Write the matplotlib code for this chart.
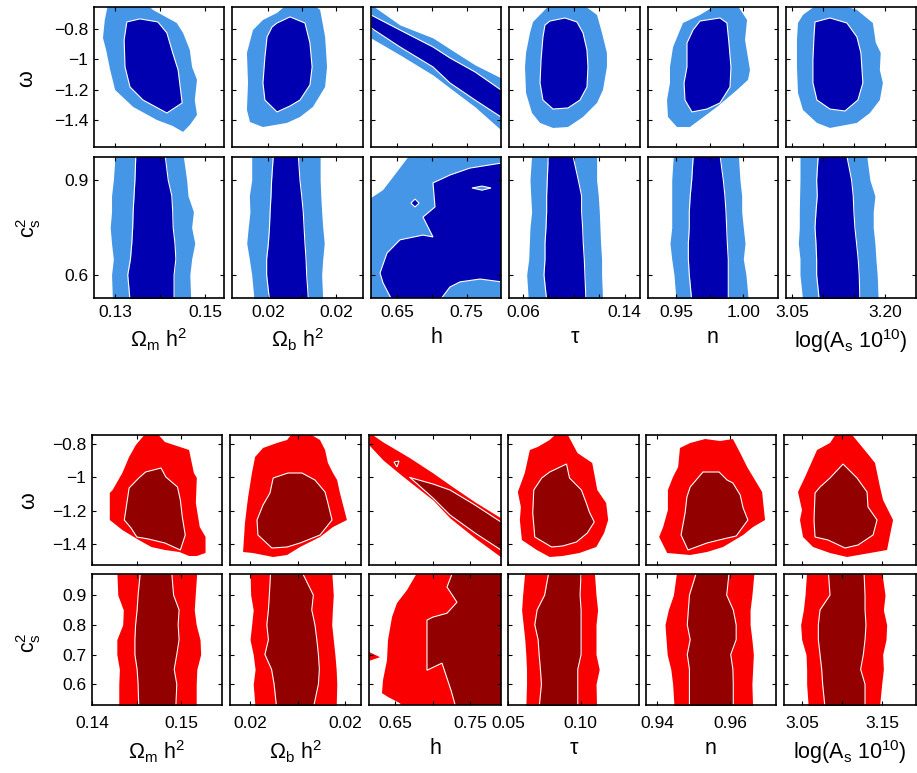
import matplotlib
matplotlib.use("Agg")
import matplotlib.pyplot as plt

plt.rcParams['font.family'] = ['Liberation Sans', 'DejaVu Sans']
plt.rcParams['mathtext.fontset'] = 'custom'
plt.rcParams['mathtext.rm'] = 'Liberation Sans'
plt.rcParams['mathtext.it'] = 'Liberation Sans'
plt.rcParams['mathtext.bf'] = 'Liberation Sans:bold'

# ---------------------------------------------------------------- labels / axes
x_labels = ["Ω$_m$ h$^2$", "Ω$_b$ h$^2$", "h", "τ", "n", "log(A$_s$ 10$^{10}$)"]

blue_xlims = [(0.1253, 0.1542), (0.01934, 0.02539), (0.613, 0.799),
              (0.049, 0.152), (0.929, 1.026), (3.040, 3.250)]
blue_xticks = [[0.13, 0.14, 0.15], [0.0210, 0.02257, 0.02414], [0.65, 0.70, 0.75],
               [0.06, 0.08, 0.10, 0.12, 0.14], [0.95, 0.975, 1.00], [3.05, 3.10, 3.15, 3.20]]
blue_xticklabels = [["0.13", "", "0.15"], ["0.02", "", "0.02"], ["0.65", "", "0.75"],
                    ["0.06", "", "", "", "0.14"], ["0.95", "", "1.00"], ["3.05", "", "", "3.20"]]

red_xlims = [(0.13996, 0.15457), (0.020367, 0.024505), (0.6153, 0.7913),
             (0.0499, 0.1404), (0.937, 0.9726), (3.0275, 3.1925)]
red_xticks = [[0.14, 0.145, 0.15], [0.021, 0.0225, 0.024], [0.65, 0.70, 0.75],
              [0.05, 0.10], [0.94, 0.96], [3.05, 3.10, 3.15]]
red_xticklabels = [["0.14", "", "0.15"], ["0.02", "", "0.02"], ["0.65", "", "0.75"],
                   ["0.05", "0.10"], ["0.94", "0.96"], ["3.05", "", "3.15"]]

w_ticks = [-0.8, -1.0, -1.2, -1.4]
w_ticklabels = ["\u22120.8", "\u22121", "\u22121.2", "\u22121.4"]
blue_wlim = (-1.574, -0.656)
red_wlim = (-1.526, -0.746)
blue_cs2_ticks = [0.6, 0.9]
red_cs2_ticks = [0.6, 0.7, 0.8, 0.9]
blue_cs2lim = (0.527, 0.973)
red_cs2lim = (0.530, 0.971)

# levels of c_s^2 at which the edges of the vertical bands are read
cs2_levels = [0.52, 0.60, 0.65, 0.70, 0.75, 0.80, 0.85, 0.90, 0.98]

# ---------------------------------------------------------------- blue: omega row (x list, y list)
b_w_omh2_out = ([0.1284, 0.1371, 0.1384, 0.1437, 0.1451, 0.1466, 0.1471, 0.1482, 0.1477, 0.1482,
                 0.1466, 0.1451, 0.1428, 0.1393, 0.1340, 0.1300, 0.1289, 0.1280, 0.1273, 0.1277],
                [-0.64, -0.64, -0.675, -0.761, -0.826, -0.938, -1.049, -1.134, -1.266, -1.364,
                 -1.430, -1.475, -1.436, -1.397, -1.311, -1.200, -1.069, -0.938, -0.859, -0.741])
b_w_omh2_in = ([0.1326, 0.1355, 0.1395, 0.1415, 0.1428, 0.1440, 0.1449, 0.1415, 0.1362, 0.1333, 0.1322, 0.1320],
               [-0.754, -0.734, -0.754, -0.826, -0.957, -1.069, -1.285, -1.351, -1.266, -1.180, -1.049, -0.872])

b_w_obh2_out = ([0.02188, 0.02308, 0.02341, 0.02364, 0.02373, 0.02364, 0.02308, 0.02248, 0.02188,
                 0.02077, 0.02017, 0.02003, 0.02008, 0.02003, 0.02031, 0.02077, 0.02142],
                [-0.64, -0.64, -0.675, -0.852, -1.049, -1.180, -1.311, -1.377, -1.416,
                 -1.443, -1.410, -1.331, -1.154, -0.957, -0.807, -0.741, -0.695])
b_w_obh2_in = ([0.02142, 0.02202, 0.02271, 0.02294, 0.02304, 0.02294, 0.02248, 0.02202, 0.02142,
                0.02086, 0.02077, 0.02086, 0.02096, 0.02119],
               [-0.761, -0.721, -0.761, -0.892, -1.049, -1.167, -1.266, -1.305, -1.344,
                -1.266, -1.154, -0.984, -0.852, -0.787])

# h - omega band: edges at given h
b_w_h_x = [0.613, 0.6545, 0.7017, 0.726, 0.7619, 0.799]
b_w_h_lu = [-0.64, -0.774, -0.859, -0.931, -1.036, -1.121]
b_w_h_du = [-0.708, -0.807, -0.918, -0.990, -1.082, -1.200]
b_w_h_dl = [-0.793, -0.918, -1.049, -1.154, -1.266, -1.377]
b_w_h_ll = [-0.859, -0.970, -1.102, -1.187, -1.311, -1.462]

b_w_tau_out = ([0.0812, 0.1072, 0.1182, 0.1221, 0.1260, 0.1260, 0.1229, 0.1182, 0.1072, 0.0954,
                0.0836, 0.0734, 0.0671, 0.0624, 0.0616, 0.0624, 0.0655, 0.0679, 0.0749],
               [-0.64, -0.64, -0.708, -0.826, -0.957, -1.049, -1.200, -1.285, -1.377, -1.443,
                -1.449, -1.416, -1.351, -1.220, -1.049, -0.957, -0.826, -0.754, -0.695])
b_w_tau_in = ([0.0812, 0.0930, 0.1024, 0.1072, 0.1103, 0.1111, 0.1103, 0.1048, 0.0954, 0.0836,
               0.0757, 0.0734, 0.0742, 0.0757, 0.0773],
              [-0.748, -0.728, -0.754, -0.826, -0.938, -1.049, -1.180, -1.266, -1.318, -1.325,
               -1.266, -1.154, -1.003, -0.852, -0.774])

b_w_n_out = ([0.9805, 0.9954, 1.0029, 1.0014, 1.0051, 1.0036, 0.9954, 0.9805, 0.9603, 0.9506,
              0.9439, 0.9432, 0.9454, 0.9454, 0.9477, 0.9551, 0.9678],
             [-0.64, -0.64, -0.741, -0.872, -1.069, -1.134, -1.200, -1.311, -1.443, -1.443,
              -1.377, -1.266, -1.154, -1.049, -0.918, -0.761, -0.708])
b_w_n_in = ([0.9678, 0.9827, 0.9879, 0.9894, 0.9909, 0.9902, 0.9827, 0.9730, 0.9618, 0.9566,
             0.9559, 0.9581, 0.9581, 0.9626],
            [-0.748, -0.728, -0.761, -0.892, -1.049, -1.180, -1.285, -1.325, -1.344, -1.266,
             -1.154, -1.049, -0.892, -0.807])

b_w_as_out = ([3.0900, 3.1271, 3.1545, 3.1803, 3.1850, 3.1930, 3.1916, 3.1965, 3.1916, 3.1755,
               3.1545, 3.1110, 3.0900, 3.0674, 3.0594, 3.0577, 3.0577, 3.0594, 3.0674],
              [-0.64, -0.64, -0.675, -0.761, -0.890, -0.957, -1.069, -1.154, -1.266, -1.351,
               -1.416, -1.449, -1.416, -1.331, -1.220, -1.049, -0.872, -0.761, -0.708])
b_w_as_in = ([3.0868, 3.1110, 3.1384, 3.1545, 3.1610, 3.1642, 3.1561, 3.1352, 3.1110, 3.0900,
              3.0835, 3.0835, 3.0852],
             [-0.754, -0.728, -0.761, -0.852, -0.957, -1.154, -1.266, -1.338, -1.325, -1.266,
              -1.154, -1.003, -0.852])

# ---------------------------------------------------------------- blue: c_s^2 row (outer-left, inner-left, inner-right, outer-right)
b_c_omh2 = ([0.1294, 0.1292, 0.1296, 0.1292, 0.1289, 0.1292, 0.1292, 0.1296, 0.1300],
            [0.1333, 0.1328, 0.1334, 0.1337, 0.1339, 0.1340, 0.1342, 0.1344, 0.1346],
            [0.1431, 0.1431, 0.1435, 0.1433, 0.1429, 0.1428, 0.1426, 0.1418, 0.1411],
            [0.1468, 0.1466, 0.1470, 0.1477, 0.1470, 0.1474, 0.1462, 0.1459, 0.1451])
b_c_obh2 = ([0.02036, 0.02025, 0.02014, 0.02002, 0.02009, 0.02017, 0.02014, 0.02025, 0.02025],
            [0.02107, 0.02094, 0.02094, 0.02102, 0.02107, 0.02110, 0.02114, 0.02117, 0.02125],
            [0.02287, 0.02279, 0.02276, 0.02271, 0.02267, 0.02263, 0.02256, 0.02248, 0.02240],
            [0.02353, 0.02348, 0.02353, 0.02360, 0.02353, 0.02348, 0.02344, 0.02341, 0.02341])
b_c_tau = ([0.0642, 0.0629, 0.0645, 0.0650, 0.0655, 0.0668, 0.0661, 0.0655, 0.0668],
           [0.0786, 0.0765, 0.0773, 0.0773, 0.0781, 0.0786, 0.0786, 0.0791, 0.0799],
           [0.1095, 0.1087, 0.1082, 0.1074, 0.1069, 0.1061, 0.1061, 0.1035, 0.0991],
           [0.1226, 0.1218, 0.1218, 0.1210, 0.1205, 0.1200, 0.1192, 0.1179, 0.1179])
b_c_n = ([0.9499, 0.9484, 0.9467, 0.9454, 0.9467, 0.9467, 0.9467, 0.9467, 0.9479],
         [0.9616, 0.9598, 0.9591, 0.9591, 0.9598, 0.9598, 0.9605, 0.9616, 0.9628],
         [0.9889, 0.9889, 0.9889, 0.9882, 0.9877, 0.9872, 0.9864, 0.9852, 0.9827],
         [1.0038, 1.0021, 1.0001, 1.0014, 1.0001, 0.9989, 0.9989, 0.9976, 0.9964])
b_c_as = ([3.0669, 3.0626, 3.0626, 3.0599, 3.0615, 3.0615, 3.0620, 3.0626, 3.0626],
          [3.0937, 3.0895, 3.0895, 3.0884, 3.0868, 3.0884, 3.0905, 3.0895, 3.0921],
          [3.1594, 3.1583, 3.1566, 3.1540, 3.1513, 3.1497, 3.1486, 3.1460, 3.1379],
          [3.1889, 3.1873, 3.1852, 3.1836, 3.1809, 3.1809, 3.1836, 3.1755, 3.1702])

# h - c_s^2 regions
b_c_h_out = ([0.613, 0.6302, 0.6445, 0.6688, 0.80, 0.80, 0.613],
             [0.843, 0.868, 0.909, 0.98, 0.98, 0.52, 0.52])
b_c_h_in = ([0.6431, 0.6302, 0.6259, 0.6359, 0.6545, 0.6874, 0.7017, 0.6874, 0.7046, 0.7017,
             0.7260, 0.7547, 0.80, 0.80, 0.7690, 0.7404, 0.7260, 0.7117],
            [0.52, 0.575, 0.606, 0.669, 0.711, 0.726, 0.720, 0.783, 0.815, 0.891,
             0.916, 0.938, 0.954, 0.578, 0.587, 0.578, 0.562, 0.52])
b_c_h_hole = ([0.7575, 0.7718, 0.7847, 0.7718], [0.875, 0.881, 0.875, 0.868])
b_c_h_isle = ([0.6702, 0.6760, 0.6817, 0.6760], [0.827, 0.840, 0.827, 0.815])

# ---------------------------------------------------------------- red: omega row
r_w_omh2_out = ([0.14609, 0.14717, 0.14815, 0.15087, 0.15141, 0.15174, 0.15163, 0.15207, 0.15272, 0.15272,
                 0.15174, 0.15087, 0.14978, 0.14815, 0.14663, 0.14522, 0.14337, 0.14196, 0.14196, 0.14228,
                 0.14337, 0.14413, 0.14489],
                [-0.73, -0.73, -0.788, -0.836, -0.974, -1.004, -1.154, -1.298, -1.358, -1.454,
                 -1.472, -1.472, -1.448, -1.436, -1.418, -1.376, -1.316, -1.256, -1.094, -1.076,
                 -0.974, -0.878, -0.806])
r_w_omh2_in = ([0.14598, 0.14772, 0.14826, 0.14957, 0.14989, 0.15011, 0.15044, 0.14989, 0.14815, 0.14630,
                0.14500, 0.14435, 0.14359, 0.14413, 0.14522],
               [-0.968, -0.944, -0.998, -1.058, -1.136, -1.238, -1.346, -1.436, -1.394, -1.370,
                -1.358, -1.304, -1.256, -1.064, -1.004])

r_w_obh2_out = ([0.02236, 0.02280, 0.02321, 0.02337, 0.02346, 0.02362, 0.02375, 0.02384, 0.02406, 0.02362,
                 0.02321, 0.02258, 0.02217, 0.02173, 0.02109, 0.02078, 0.02084, 0.02090, 0.02094, 0.02106,
                 0.02116, 0.02141, 0.02185, 0.02217],
                [-0.73, -0.73, -0.776, -0.836, -0.914, -0.974, -1.016, -1.094, -1.256, -1.298,
                 -1.358, -1.418, -1.466, -1.478, -1.454, -1.448, -1.274, -1.178, -1.118, -0.974,
                 -0.878, -0.824, -0.794, -0.776])
r_w_obh2_in = ([0.02173, 0.02220, 0.02264, 0.02305, 0.02337, 0.02346, 0.02359, 0.02321, 0.02258, 0.02217,
                0.02169, 0.02125, 0.02122, 0.02141, 0.02163],
               [-1.004, -0.974, -0.974, -1.016, -1.088, -1.154, -1.256, -1.346, -1.394, -1.418,
                -1.424, -1.346, -1.256, -1.166, -1.094])

r_w_h_x = [0.6153, 0.6340, 0.6566, 0.6700, 0.7006, 0.7233, 0.7566, 0.7913]
r_w_h_lu = [-0.73, -0.788, -0.848, -0.884, -0.974, -1.046, -1.148, -1.244]
r_w_h_ll = [-0.806, -0.896, -0.980, -1.028, -1.136, -1.244, -1.364, -1.478]
r_w_h_xd = [0.6700, 0.7006, 0.7233, 0.7566, 0.7913]
r_w_h_du = [-1.001, -1.040, -1.076, -1.166, -1.268]
r_w_h_dl = [-1.001, -1.124, -1.226, -1.334, -1.436]
r_w_h_isle = ([0.6486, 0.6553, 0.6526], [-0.908, -0.902, -0.938])

r_w_tau_out = ([0.0842, 0.0903, 0.0979, 0.1081, 0.1116, 0.1177, 0.1191, 0.1163, 0.1109, 0.0992,
                0.0876, 0.0787, 0.0698, 0.0595, 0.0581, 0.0588, 0.0567, 0.0615, 0.0650, 0.0704, 0.0787],
               [-0.73, -0.73, -0.854, -0.914, -1.076, -1.154, -1.256, -1.334, -1.418, -1.454,
                -1.472, -1.478, -1.436, -1.376, -1.256, -1.178, -1.088, -0.974, -0.836, -0.818, -0.776])
r_w_tau_in = ([0.0787, 0.0903, 0.0924, 0.1006, 0.1040, 0.1061, 0.1095, 0.1047, 0.0972, 0.0876,
               0.0800, 0.0684, 0.0670, 0.0677, 0.0732],
              [-0.968, -0.920, -1.004, -1.076, -1.154, -1.208, -1.268, -1.334, -1.388, -1.412,
               -1.418, -1.358, -1.214, -1.076, -1.004])

r_w_n_out = ([0.9463, 0.9491, 0.9532, 0.9573, 0.9608, 0.9628, 0.9647, 0.9688, 0.9691, 0.9696, 0.9663,
              0.9636, 0.9581, 0.9537, 0.9491, 0.9428, 0.9406, 0.9417, 0.9430, 0.9430, 0.9444, 0.9458],
             [-0.824, -0.794, -0.770, -0.782, -0.770, -0.854, -0.938, -1.088, -1.154, -1.256, -1.298,
              -1.346, -1.418, -1.448, -1.466, -1.454, -1.358, -1.298, -1.196, -1.076, -0.998, -0.938])
r_w_n_in = ([0.9491, 0.9526, 0.9570, 0.9592, 0.9608, 0.9628, 0.9636, 0.9649, 0.9617, 0.9581,
             0.9537, 0.9485, 0.9466, 0.9477, 0.9482],
            [-1.058, -0.968, -0.968, -1.016, -1.034, -1.106, -1.184, -1.256, -1.352, -1.370,
             -1.394, -1.436, -1.346, -1.214, -1.118])

r_w_as_out = ([3.0938, 3.1100, 3.1313, 3.1413, 3.1475, 3.1513, 3.1638, 3.1563, 3.1350, 3.1063,
               3.0850, 3.0638, 3.0513, 3.0475, 3.0500, 3.0450, 3.0538, 3.0688, 3.0850],
              [-0.73, -0.73, -0.854, -0.914, -1.058, -1.136, -1.256, -1.436, -1.454, -1.478,
               -1.454, -1.418, -1.358, -1.256, -1.196, -1.088, -0.998, -0.836, -0.794])
r_w_as_in = ([3.0850, 3.1013, 3.1188, 3.1313, 3.1325, 3.1438, 3.1388, 3.1200, 3.1038, 3.0825,
              3.0663, 3.0650, 3.0663, 3.0725],
             [-1.004, -0.920, -1.004, -1.088, -1.178, -1.256, -1.346, -1.406, -1.424, -1.376,
              -1.358, -1.256, -1.094, -1.058])

# ---------------------------------------------------------------- red: c_s^2 row
r_c_omh2 = ([0.14297, 0.14297, 0.14304, 0.14275, 0.14275, 0.14341, 0.14348, 0.14286, 0.14275],
            [0.14522, 0.14514, 0.14503, 0.14478, 0.14478, 0.14486, 0.14503, 0.14514, 0.14540],
            [0.14938, 0.14949, 0.14920, 0.14949, 0.14975, 0.14964, 0.14975, 0.14913, 0.14891],
            [0.15167, 0.15167, 0.15174, 0.15217, 0.15210, 0.15167, 0.15145, 0.15156, 0.15174])
r_c_obh2 = ([0.02116, 0.02110, 0.02116, 0.02110, 0.02100, 0.02105, 0.02110, 0.02102, 0.02100],
            [0.02184, 0.02176, 0.02168, 0.02147, 0.02158, 0.02153, 0.02158, 0.02161, 0.02165],
            [0.02300, 0.02316, 0.02319, 0.02316, 0.02311, 0.02305, 0.02295, 0.02300, 0.02263],
            [0.02372, 0.02374, 0.02372, 0.02368, 0.02363, 0.02358, 0.02360, 0.02363, 0.02358])
r_c_tau = ([0.0622, 0.0627, 0.0627, 0.0622, 0.0615, 0.0604, 0.0593, 0.0600, 0.0615],
           [0.0714, 0.0730, 0.0723, 0.0714, 0.0707, 0.0684, 0.0700, 0.0752, 0.0782],
           [0.0981, 0.0981, 0.0981, 0.1004, 0.1004, 0.1004, 0.1004, 0.0997, 0.1004],
           [0.1111, 0.1107, 0.1129, 0.1107, 0.1107, 0.1107, 0.1118, 0.1107, 0.1095])
r_c_n = ([0.9447, 0.9443, 0.9438, 0.9428, 0.9425, 0.9422, 0.9431, 0.9445, 0.9454],
         [0.9489, 0.9489, 0.9489, 0.9483, 0.9491, 0.9483, 0.9486, 0.9489, 0.9509],
         [0.9609, 0.9609, 0.9608, 0.9602, 0.9617, 0.9617, 0.9609, 0.9591, 0.9598],
         [0.9662, 0.9660, 0.9662, 0.9664, 0.9660, 0.9655, 0.9655, 0.9660, 0.9666])
r_c_as = ([3.0579, 3.0558, 3.0558, 3.0550, 3.0496, 3.0483, 3.0517, 3.0538, 3.0558],
          [3.0788, 3.0758, 3.0746, 3.0725, 3.0704, 3.0704, 3.0725, 3.0850, 3.0829],
          [3.1288, 3.1288, 3.1233, 3.1267, 3.1288, 3.1300, 3.1288, 3.1288, 3.1275],
          [3.1467, 3.1496, 3.1517, 3.1508, 3.1550, 3.1558, 3.1517, 3.1538, 3.1496])

r_c_h_out = ([0.6806, 0.6660, 0.6526, 0.6460, 0.6406, 0.6393, 0.6340, 0.6326, 0.6406, 0.6566,
              0.6606, 0.80, 0.80],
             [0.98, 0.917, 0.873, 0.826, 0.748, 0.681, 0.614, 0.570, 0.557, 0.536,
              0.52, 0.52, 0.98])
r_c_h_tip = ([0.61, 0.6300, 0.61], [0.715, 0.691, 0.674])
r_c_h_in = ([0.7273, 0.80, 0.80, 0.7313, 0.7246, 0.7126, 0.6926, 0.6926, 0.6926, 0.7006,
             0.7193, 0.7326, 0.7193],
            [0.98, 0.98, 0.52, 0.52, 0.580, 0.671, 0.647, 0.738, 0.816, 0.826,
             0.839, 0.876, 0.927])

BLUE_1, BLUE_2 = '#4596e6', '#0000b0'
RED_1, RED_2 = '#fb0000', '#920000'

# pixel rectangles of panels (left, top, right, bottom)
blue_cols = [(94, 224), (232, 363), (371, 501), (509, 640), (648, 778), (786, 916)]
blue_rows = [(7, 147), (157, 298)]
red_cols = [(92, 222), (230, 361), (369, 501), (508, 639), (646, 776), (784, 916)]
red_rows = [(435, 565), (574, 705)]

W, H = 917, 773


def blob(ax, outer, inner, c1, c2):
    ax.fill(outer[0], outer[1], color=c1, lw=0)
    ax.fill(inner[0], inner[1], facecolor=c2, edgecolor='white', lw=0.8)


def band(ax, edges, c1, c2):
    ll, dl, dr, lr = edges
    ax.fill_betweenx(cs2_levels, ll, lr, color=c1, lw=0)
    ax.fill_betweenx(cs2_levels, dl, dr, color=c2, lw=0)
    ax.plot(dl, cs2_levels, color='white', lw=0.8)
    ax.plot(dr, cs2_levels, color='white', lw=0.8)


def make_axes(fig, col, row):
    l, r = col
    t, b = row
    ax = fig.add_axes([l / W, 1 - b / H, (r - l) / W, (b - t) / H])
    for s in ax.spines.values():
        s.set_linewidth(1.2)
    ax.tick_params(direction='in', top=True, right=True, length=3, width=0.8,
                   labelsize=12.5)
    return ax


fig = plt.figure(figsize=(W / 100, H / 100), dpi=100)

groups = [
    (blue_cols, blue_rows, blue_xlims, blue_xticks, blue_xticklabels, blue_wlim, blue_cs2lim,
     blue_cs2_ticks, BLUE_1, BLUE_2, 5, 5),
    (red_cols, red_rows, red_xlims, red_xticks, red_xticklabels, red_wlim, red_cs2lim,
     red_cs2_ticks, RED_1, RED_2, 8, 5),
]

for g, (cols, rows, xlims, xticks, xtl, wlim, clim, cticks, c1, c2, tpad, lpad) in enumerate(groups):
    for i in range(6):
        ax_w = make_axes(fig, cols[i], rows[0])
        ax_c = make_axes(fig, cols[i], rows[1])
        if g == 0:
            if i == 2:
                ax_w.fill_between(b_w_h_x, b_w_h_ll, b_w_h_lu, color=c1, lw=0)
                ax_w.fill_between(b_w_h_x, b_w_h_dl, b_w_h_du, color=c2, lw=0)
                ax_w.plot(b_w_h_x, b_w_h_dl, color='white', lw=0.8)
                ax_w.plot(b_w_h_x, b_w_h_du, color='white', lw=0.8)
                ax_c.fill(b_c_h_out[0], b_c_h_out[1], color=c1, lw=0)
                ax_c.fill(b_c_h_in[0], b_c_h_in[1], facecolor=c2, edgecolor='white', lw=0.8)
                ax_c.fill(b_c_h_hole[0], b_c_h_hole[1], facecolor=c1, edgecolor='white', lw=0.8)
                ax_c.fill(b_c_h_isle[0], b_c_h_isle[1], facecolor=c2, edgecolor='white', lw=0.8)
            else:
                shapes = {0: (b_w_omh2_out, b_w_omh2_in), 1: (b_w_obh2_out, b_w_obh2_in),
                          3: (b_w_tau_out, b_w_tau_in), 4: (b_w_n_out, b_w_n_in),
                          5: (b_w_as_out, b_w_as_in)}[i]
                blob(ax_w, shapes[0], shapes[1], c1, c2)
                band(ax_c, {0: b_c_omh2, 1: b_c_obh2, 3: b_c_tau, 4: b_c_n, 5: b_c_as}[i], c1, c2)
        else:
            if i == 2:
                ax_w.fill_between(r_w_h_x, r_w_h_ll, r_w_h_lu, color=c1, lw=0)
                ax_w.fill_between(r_w_h_xd, r_w_h_dl, r_w_h_du, color=c2, lw=0)
                ax_w.plot(r_w_h_xd, r_w_h_dl, color='white', lw=0.8)
                ax_w.plot(r_w_h_xd, r_w_h_du, color='white', lw=0.8)
                ax_w.fill(r_w_h_isle[0], r_w_h_isle[1], facecolor=c2, edgecolor='white', lw=0.8)
                ax_c.fill(r_c_h_out[0], r_c_h_out[1], color=c1, lw=0)
                ax_c.fill(r_c_h_tip[0], r_c_h_tip[1], color=c1, lw=0)
                ax_c.fill(r_c_h_in[0], r_c_h_in[1], facecolor=c2, edgecolor='white', lw=0.8)
            else:
                shapes = {0: (r_w_omh2_out, r_w_omh2_in), 1: (r_w_obh2_out, r_w_obh2_in),
                          3: (r_w_tau_out, r_w_tau_in), 4: (r_w_n_out, r_w_n_in),
                          5: (r_w_as_out, r_w_as_in)}[i]
                blob(ax_w, shapes[0], shapes[1], c1, c2)
                band(ax_c, {0: r_c_omh2, 1: r_c_obh2, 3: r_c_tau, 4: r_c_n, 5: r_c_as}[i], c1, c2)

        for ax in (ax_w, ax_c):
            ax.set_xlim(*xlims[i])
            ax.set_xticks(xticks[i])
        ax_w.set_xticklabels([])
        ax_c.set_xticklabels(xtl[i])
        ax_c.tick_params(axis='x', pad=tpad)
        ax_c.set_xlabel(x_labels[i], fontsize=15.5, labelpad=lpad)

        ax_w.set_ylim(*wlim)
        ax_w.set_yticks(w_ticks)
        ax_c.set_ylim(*clim)
        ax_c.set_yticks(cticks)
        if i == 0:
            ax_w.set_yticklabels(w_ticklabels)
            ax_c.set_yticklabels(["%.1f" % v for v in cticks])
            ax_w.tick_params(axis='y', pad=4)
            ax_c.tick_params(axis='y', pad=4)
        else:
            ax_w.set_yticklabels([])
            ax_c.set_yticklabels([])

# row titles
fig.text(27 / W, 1 - 79 / H, "ω", rotation=90, fontsize=15.5, ha='center', va='center')
fig.text(29 / W, 1 - 228 / H, "c$_s^2$", rotation=90, fontsize=15.5, ha='center', va='center')
fig.text(29 / W, 1 - 501 / H, "ω", rotation=90, fontsize=15.5, ha='center', va='center')
fig.text(29 / W, 1 - 643 / H, "c$_s^2$", rotation=90, fontsize=15.5, ha='center', va='center')

fig.savefig("out.png", dpi=100)
